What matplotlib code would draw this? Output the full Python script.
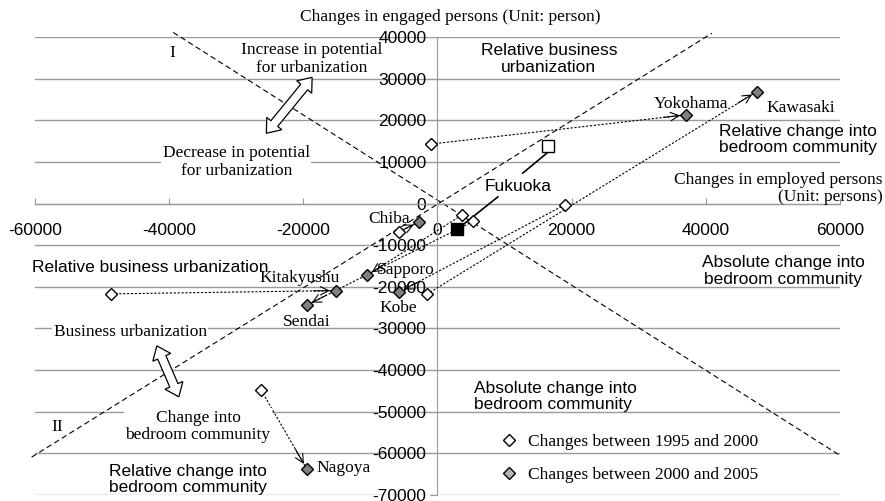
import numpy as np
import matplotlib
matplotlib.use('Agg')
import matplotlib.pyplot as plt
from matplotlib.patches import Polygon
from matplotlib.transforms import Affine2D, ScaledTranslation
from matplotlib.lines import Line2D

SERIF = 'Liberation Serif'
SANS = 'Liberation Sans'
plt.rcParams['font.family'] = [SANS, 'DejaVu Sans']

# 都市データ (x: employed persons, y: engaged persons)
cities = ['Yokohama', 'Kawasaki', 'Chiba', 'Sapporo', 'Kitakyushu', 'Sendai', 'Kobe', 'Nagoya']
x_9500 = [-900, -1600, -5800, 3600, -48600, 5300, 19000, -26300]
y_9500 = [14300, -21800, -6800, -2800, -21700, -4300, -300, -44800]
x_0005 = [37000, 47600, -2800, -10500, -15200, -19500, -5800, -19500]
y_0005 = [21300, 26900, -4500, -17200, -20900, -24400, -21300, -63700]

# Fukuoka (white square -> black square)
fukuoka_x = [16400, 2900]
fukuoka_y = [13800, -6000]

x_ticks = [-60000, -40000, -20000, 0, 20000, 40000, 60000]
y_ticks = [-70000, -60000, -50000, -40000, -30000, -20000, -10000, 0, 10000, 20000, 30000, 40000]

# reference lines
diag_up_x = [-60500, 40900]
diag_up_y = [-60900, 40900]
diag_dn_x = [-39400, 60000]
diag_dn_y = [41100, -60500]

grid_c = '#9a9a9a'

fig = plt.figure(figsize=(8.85, 5.01), dpi=100)
ax = fig.add_axes([35 / 885, 6 / 501, 805 / 885, 458 / 501])
ax.set_xlim(-60000, 60000)
ax.set_ylim(-70000, 40000)
for s in ['top', 'right']:
    ax.spines[s].set_visible(False)
ax.spines['left'].set_position(('data', 0))
ax.spines['bottom'].set_position(('data', 0))
ax.spines['left'].set_color(grid_c)
ax.spines['bottom'].set_color(grid_c)
ax.set_xticks(x_ticks)
ax.set_xticklabels([str(v) for v in x_ticks])
ax.set_yticks(y_ticks)
ax.set_yticklabels([str(v) for v in y_ticks])
ax.tick_params(axis='x', direction='in', length=4, color=grid_c, pad=14, labelsize=12.5)
ax.tick_params(axis='y', direction='out', length=5, color=grid_c, pad=3, labelsize=12.5)
ax.yaxis.grid(True, color=grid_c, lw=1)
ax.set_axisbelow(True)

# 参照線
ax.plot(diag_up_x, diag_up_y, color='black', lw=0.8, ls=(0, (5, 3)), clip_on=False, zorder=2)
ax.plot(diag_dn_x, diag_dn_y, color='black', lw=0.8, ls=(0, (5, 3)), clip_on=False, zorder=2)

# 矢印 (1995-2000 -> 2000-2005)
fig.canvas.draw()
for i in range(len(cities)):
    ax.plot([x_9500[i], x_0005[i]], [y_9500[i], y_0005[i]], color='black', lw=0.8,
            ls=(0, (2, 1.5)), zorder=3)
    p0 = ax.transData.transform((x_9500[i], y_9500[i]))
    p1 = ax.transData.transform((x_0005[i], y_0005[i]))
    u = (p1 - p0) / np.hypot(*(p1 - p0))
    ax.annotate('', xy=(x_0005[i], y_0005[i]), xytext=(-u[0] * 16, -u[1] * 16),
                textcoords='offset points',
                arrowprops=dict(arrowstyle='->,head_length=0.6,head_width=0.3', lw=0.8,
                                color='black', shrinkA=0, shrinkB=4), zorder=4)

ax.plot(x_9500, y_9500, ls='none', marker='D', ms=6.5, mfc='white', mec='black', mew=1, zorder=5)
ax.plot(x_0005, y_0005, ls='none', marker='D', ms=6.5, mfc='#808080', mec='black', mew=1, zorder=5)
ax.plot(fukuoka_x[:1], fukuoka_y[:1], ls='none', marker='s', ms=8, mfc='white', mec='black', mew=1, zorder=5)
ax.plot(fukuoka_x[1:], fukuoka_y[1:], ls='none', marker='s', ms=8, mfc='black', mec='black', mew=1, zorder=5)

# Fukuoka leader lines
ax.plot([16300, 12700], [12100, 7300], color='black', lw=1.2, zorder=4)
ax.plot([9000, 3400], [1600, -5600], color='black', lw=1.2, zorder=4)


def hollow_double_arrow(cx, cy, length, angle, hl=9, h=7, w=3.2):
    L = length / 2
    verts = [(-L, 0), (-L + hl, h), (-L + hl, w), (L - hl, w), (L - hl, h), (L, 0),
             (L - hl, -h), (L - hl, -w), (-L + hl, -w), (-L + hl, -h)]
    tr = Affine2D().rotate_deg(angle).scale(fig.dpi / 72) + ScaledTranslation(cx, cy, ax.transData)
    ax.add_patch(Polygon(verts, closed=True, fc='white', ec='black', lw=0.9,
                         transform=tr, zorder=3, clip_on=False))


hollow_double_arrow(-22100, 23600, 52, 50.7)
hollow_double_arrow(-40200, -40300, 40, -66.6)

serif_kw = dict(family=SERIF, fontsize=12.5)
sans_kw = dict(family=SANS, fontsize=12.5)
white_box = dict(facecolor='white', edgecolor='none', pad=1)

fig.text(450 / 885, 1 - 17 / 501, 'Changes in engaged persons (Unit: person)',
         ha='center', va='center', **serif_kw)

ax.text(-39500, 36200, 'I', ha='center', va='center', **serif_kw)
ax.text(-18700, 34700, 'Increase in potential\nfor urbanization', ha='center', va='center',
        linespacing=1.1, **serif_kw)
ax.text(-30000, 10000, 'Decrease in potential\nfor urbanization', ha='center', va='center',
        linespacing=1.1, bbox=white_box, zorder=4, **serif_kw)
ax.text(16600, 34700, 'Relative business\nurbanization', ha='center', va='center', **sans_kw)
ax.text(37800, 23900, 'Yokohama', ha='center', va='center', **serif_kw)
ax.text(54200, 23000, 'Kawasaki', ha='center', va='center', **serif_kw)
ax.text(53800, 15300, 'Relative change into\nbedroom community', ha='center', va='center',
        linespacing=1.1, **sans_kw)
ax.text(66300, 3700, 'Changes in employed persons\n(Unit: persons)', ha='right', va='center',
        multialignment='right', linespacing=1.1, clip_on=False, **serif_kw)
ax.text(51500, -16200, 'Absolute change into\nbedroom community', ha='center', va='center',
        linespacing=1.1, **sans_kw)
ax.text(12000, 4200, 'Fukuoka', ha='center', va='center', **sans_kw)
ax.text(-7200, -3700, 'Chiba', ha='center', va='center', **serif_kw)
ax.text(-4800, -16000, 'Sapporo', ha='center', va='center', **serif_kw)
ax.text(-20500, -17900, 'Kitakyushu', ha='center', va='center', **serif_kw)
ax.text(-19500, -28500, 'Sendai', ha='center', va='center', **serif_kw)
ax.text(-5900, -25100, 'Kobe', ha='center', va='center', **serif_kw)
ax.text(-60500, -15300, 'Relative business urbanization', ha='left', va='center', clip_on=False, **sans_kw)
ax.text(-45800, -30900, 'Business urbanization', ha='center', va='center', bbox=white_box,
        zorder=4, **serif_kw)
ax.text(-56700, -53700, 'II', ha='center', va='center', **serif_kw)
ax.text(-35700, -53500, 'Change into\nbedroom community', ha='center', va='center',
        linespacing=1.1, bbox=white_box, zorder=4, **serif_kw)
ax.text(-37200, -66200, 'Relative change into\nbedroom community', ha='center', va='center',
        linespacing=1.1, **sans_kw)
ax.text(-18000, -63600, 'Nagoya', ha='left', va='center', **serif_kw)
ax.text(5400, -46400, 'Absolute change into\nbedroom community', ha='left', va='center',
        linespacing=1.1, **sans_kw)

h1 = Line2D([], [], ls='none', marker='D', ms=6.5, mfc='white', mec='black', mew=1)
h2 = Line2D([], [], ls='none', marker='D', ms=6.5, mfc='#b4b4b4', mec='black', mew=1)
ax.legend([h1, h2], ['Changes between 1995 and 2000', 'Changes between 2000 and 2005'],
          loc='upper left', bbox_to_anchor=(0.569, 0.148), frameon=False, borderaxespad=0,
          prop={'family': SERIF, 'size': 12.5}, handlelength=1, handletextpad=0.6,
          labelspacing=0.95)

fig.savefig('out.png', dpi=100)
